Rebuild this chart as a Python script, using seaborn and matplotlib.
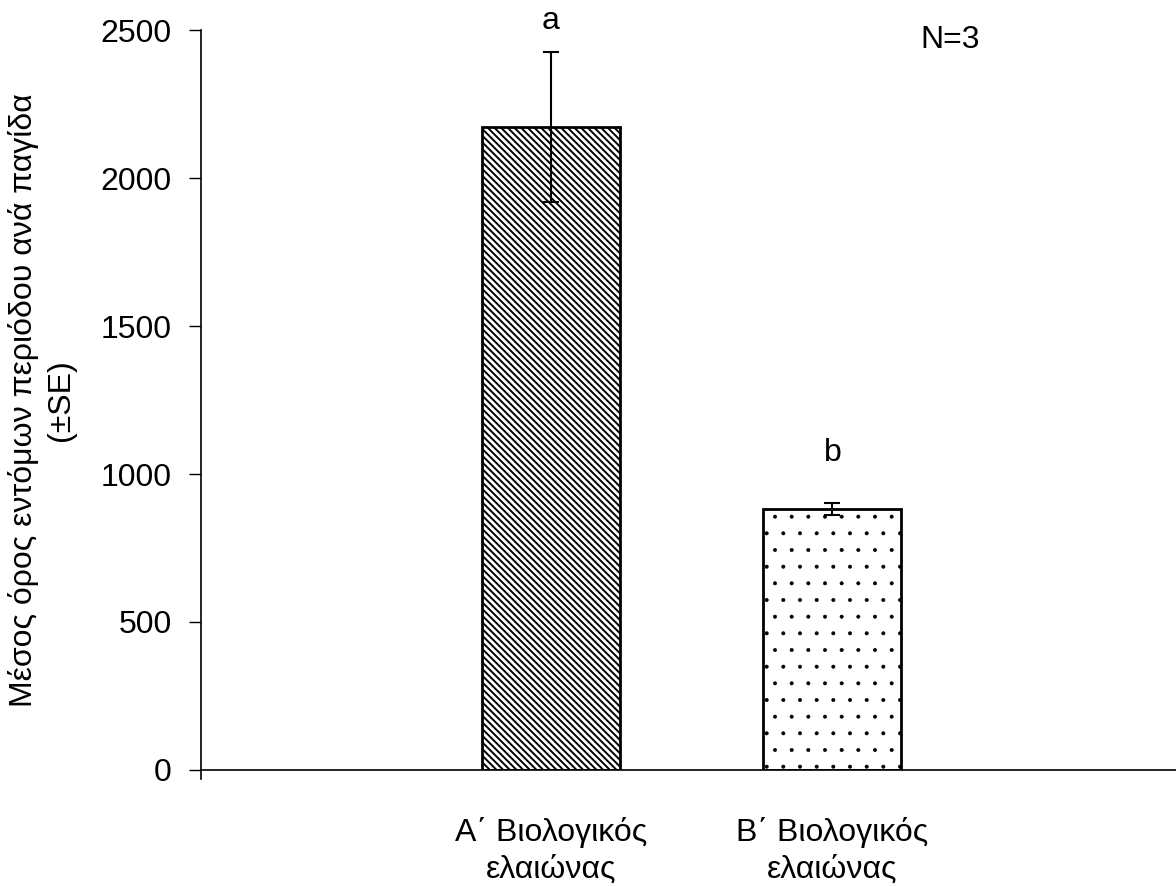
import matplotlib
matplotlib.use("Agg")
import matplotlib.pyplot as plt
import seaborn as sns
import pandas as pd

categories = ["Α΄ Βιολογικός\nελαιώνας", "Β΄ Βιολογικός\nελαιώνας"]
means = [2172, 881]
se = [254, 20]
letters = ["a", "b"]
letter_y = [2530, 1071]
ylabel = "Μέσος όρος εντόμων περιόδου ανά παγίδα\n(±SE)"
note = "N=3"

sns.set_theme(style="white")
plt.rcParams["font.family"] = ["Liberation Sans", "DejaVu Sans"]
plt.rcParams["hatch.linewidth"] = 1.4
plt.rcParams["text.color"] = "black"
plt.rcParams["axes.labelcolor"] = "black"
plt.rcParams["xtick.color"] = "black"
plt.rcParams["ytick.color"] = "black"

FS = 23

fig = plt.figure(figsize=(11.76, 8.86), dpi=100)
ax = fig.add_axes([0.171, 0.131, 0.829, 0.835])

df = pd.DataFrame({"cat": categories, "val": means})
sns.barplot(data=df, x="cat", y="val", ax=ax, color="white", width=0.49,
            edgecolor="black", linewidth=2, errorbar=None)
hatches = ["\\\\\\\\\\", "."]
hatch_lw = [1.4, 0.4]
for patch, h, hl in zip(ax.patches, hatches, hatch_lw):
    patch.set_hatch(h)
    patch.set_facecolor("white")
    patch.set_edgecolor("black")
    if hasattr(patch, "set_hatch_linewidth"):
        patch.set_hatch_linewidth(hl)

ax.errorbar(range(len(means)), means, yerr=se, fmt="none", ecolor="black",
            elinewidth=1.5, capsize=6, capthick=1.5)

for i, (l, y) in enumerate(zip(letters, letter_y)):
    ax.text(i, y, l, ha="center", va="center", fontsize=FS)

ax.text(1.418, 2466, note, ha="center", va="center", fontsize=FS)

ax.set_xlim(-1.241, 2.22)
ax.set_ylim(0, 2500)
ax.set_yticks([0, 500, 1000, 1500, 2000, 2500])
ax.tick_params(axis="y", labelsize=FS, direction="out", length=9, width=1, left=True, pad=12)
ax.tick_params(axis="x", labelsize=FS, length=0, pad=34)
for t in ax.get_xticklabels():
    t.set_linespacing(1.3)
ax.set_xlabel("")
ax.set_ylabel(ylabel, fontsize=FS, labelpad=18, linespacing=1.3)
for sp in ["top", "right"]:
    ax.spines[sp].set_visible(False)
for sp in ["left", "bottom"]:
    ax.spines[sp].set_color("black")
    ax.spines[sp].set_linewidth(1.2)
ax.spines["left"].set_bounds(-32, 2500)
ax.grid(False)

fig.savefig("out.png", dpi=100)
